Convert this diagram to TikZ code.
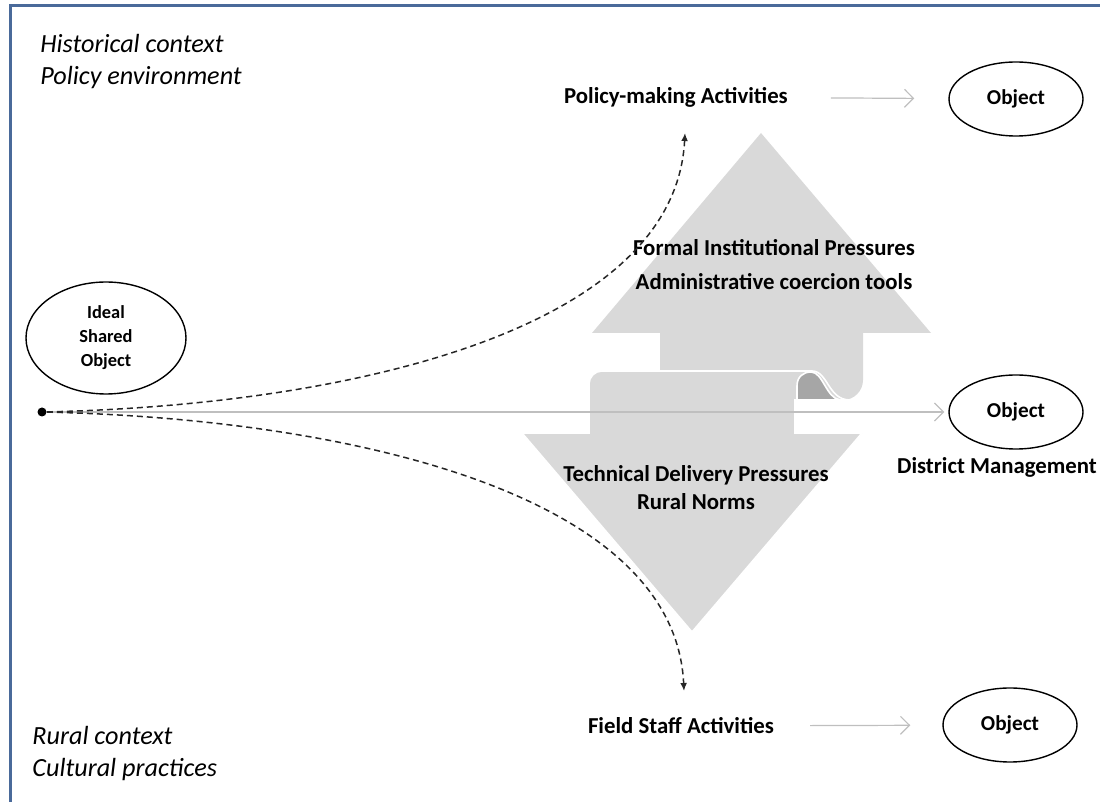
\documentclass[tikz,border=0pt]{standalone}
\usepackage{fontspec}
\setmainfont{Carlito}
\usetikzlibrary{arrows.meta,shapes.geometric}
\definecolor{frameblue}{HTML}{4A6A9A}
\definecolor{lgray}{HTML}{D9D9D9}
\definecolor{dgray}{HTML}{A6A6A6}
\definecolor{lngray}{HTML}{BFBFBF}
\tikzset{>/.tip={Latex[length=4pt,width=3.4pt]},
  lbl/.style={font=\bfseries\fontsize{11.4}{13}\selectfont},
  ctx/.style={font=\itshape\fontsize{13.1}{16}\selectfont, align=left, anchor=west, inner sep=0pt},
  obj/.style={draw, ellipse, line width=0.7pt, inner sep=0pt, minimum width=67pt, minimum height=37pt,
    font=\bfseries\fontsize{10.6}{12}\selectfont},
  gr/.style={lngray, line width=0.6pt, -{Straight Barb[length=4.5pt,width=9pt]}},
  dsh/.style={black!85, line width=0.75pt, dash pattern=on 3pt off 2pt, ->}}

\begin{document}
\begin{tikzpicture}[x=0.5pt,y=-0.5pt]
\useasboundingbox (0,0) rectangle (1100,802);
\draw[frameblue, line width=1.5pt] (10.5,5.5) rectangle (1130,830);
\fill[lgray] (761,133) -- (931,333) -- (863,333) {[rounded corners=10pt] -- (863,400)} -- (660,400) -- (660,333) -- (592,333) -- cycle;
\filldraw[fill=lgray, draw=white, line width=0.8pt] (692,632) -- (522,433) -- (589,433) {[rounded corners=6.5pt] -- (589,371)} -- (812,371)
  .. controls (828,371) and (828,400) .. (850,400) -- (795,400) -- (795,433) -- (862,433) -- cycle;
\filldraw[fill=dgray, draw=white, line width=0.8pt] (797,400) -- (797,386) .. controls (797,377) and (803,372) .. (811,372)
  .. controls (823,372) and (826,398) .. (840,400) -- cycle;

\node[ctx] (hist) at (40,62) {Historical context\\Policy environment};
\node[ctx] (rur) at (32,754) {Rural context\\Cultural practices};

\node[lbl] (pol) at (676,97) {Policy-making Activities};
\node[lbl] (fld) at (681,726) {Field Staff Activities};
\node[obj] (o1) at (1016,99) {Object};
\node[obj] (o2) at (1016,412) {Object};
\node[obj] (o3) at (1010,725) {Object};
\node[lbl] (dm) at (997,467) {District Management};

\node[lbl] (fip) at (774,248) {Formal Institutional Pressures};
\node[lbl] (act) at (774,282) {Administrative coercion tools};
\node[lbl] (tdp) at (696,475) {Technical Delivery Pressures};
\node[lbl] (rn) at (696,502) {Rural Norms};

\node[draw, ellipse, line width=0.7pt, minimum width=80pt, minimum height=56pt, align=center,
  font=\bfseries\fontsize{9.2}{12}\selectfont] (ideal) at (106,338) {Ideal\\Shared\\Object};
\node[circle, fill, inner sep=0pt, minimum size=4.5pt] (dot) at (42,412) {};

\coordinate (up) at (685,133);
\coordinate (dn) at (684,691);
\draw[lngray, line width=0.6pt, shorten >=2pt, -{Straight Barb[length=4.5pt,width=9pt]}] (dot) -- (o2);
\draw[dsh] (dot) .. controls (350,405) and (675,330) .. (up);
\draw[dsh] (dot) .. controls (350,419) and (675,494) .. (dn);
\foreach \a/\b/\s/\t in {pol/o1/18pt/17pt,fld/o3/14.5pt/16pt}
{
  \draw[gr, shorten <=\s, shorten >=\t] (\a) -- (\b);
}
\end{tikzpicture}
\end{document}
